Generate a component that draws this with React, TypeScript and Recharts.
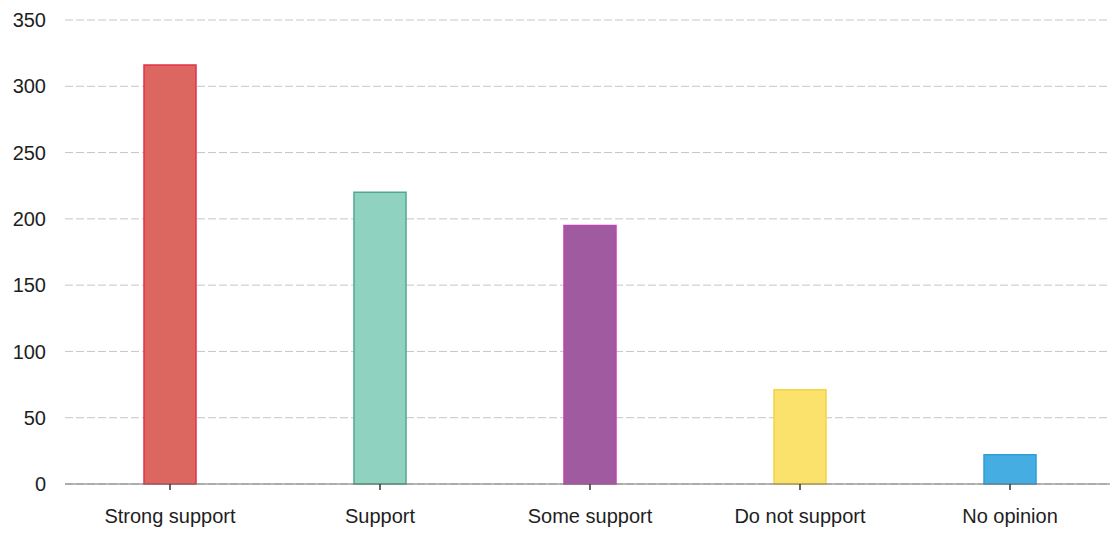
import { BarChart, Bar, XAxis, YAxis, CartesianGrid, Cell } from 'recharts'

const categories = ['Strong support', 'Support', 'Some support', 'Do not support', 'No opinion']
const counts = [316, 220, 195, 71, 22]
const yTicks = [0, 50, 100, 150, 200, 250, 300, 350]

const fills = ['#dc6760', '#8fd2bf', '#a05aa0', '#fbe26c', '#46ade2']
const strokes = ['#e5304e', '#52a88d', '#c043b3', '#f3d24a', '#2f9fd8']

const data = categories.map((name, i) => ({ name, count: counts[i] }))

const font = '"Liberation Sans", Arial, sans-serif'

export default function App() {
    return (
        <div style={{ position: 'absolute', left: 0, top: 0, width: 1110, height: 533, overflow: 'hidden', background: '#fff' }}>
            <BarChart
                width={1120}
                height={533}
                data={data}
                margin={{ top: 20, right: 5, left: 5, bottom: 0 }}
                barSize={52}
            >
                <CartesianGrid
                    vertical={false}
                    stroke="#c6c6c6"
                    strokeDasharray="8 3"
                />
                <XAxis
                    dataKey="name"
                    height={49}
                    axisLine={{ stroke: '#777', strokeWidth: 1.2 }}
                    tickLine={{ stroke: '#333', strokeWidth: 1.5 }}
                    tickSize={6}
                    tickMargin={19}
                    tick={{ fill: '#1e1e1e', fontSize: 20, fontFamily: font }}
                    interval={0}
                />
                <YAxis
                    width={60}
                    domain={[0, 350]}
                    ticks={yTicks}
                    axisLine={false}
                    tickLine={false}
                    tickMargin={13}
                    tick={{ fill: '#1e1e1e', fontSize: 20, fontFamily: font }}
                    interval={0}
                />
                <Bar dataKey="count" isAnimationActive={false} strokeWidth={1.5}>
                    {data.map((d, i) => (
                        <Cell key={d.name} fill={fills[i]} stroke={strokes[i]} />
                    ))}
                </Bar>
            </BarChart>
        </div>
    )
}
